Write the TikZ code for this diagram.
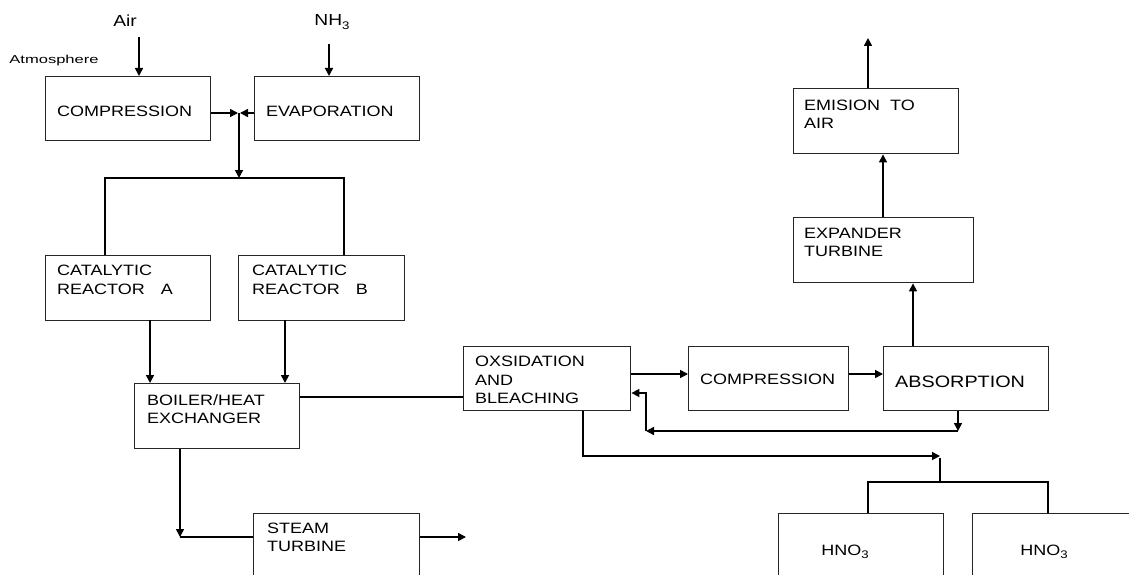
\documentclass[tikz,border=0pt]{standalone}
\usepackage{fontspec}
\setmainfont{Liberation Sans}[FakeStretch=1.2]
\usetikzlibrary{arrows.meta,calc}
\newcommand{\mysub}[1]{\raisebox{-3.5pt}{\fontsize{11}{11}\selectfont #1}}
\begin{document}
\begin{tikzpicture}[x=1pt,y=-1pt,
  box/.style={draw=black!85, line width=1.4pt, rectangle, inner sep=0pt, anchor=north west},
  txt/.style={inner sep=0pt, anchor=west, font=\fontsize{15}{18.5}\selectfont, align=left},
  ln/.style={line width=1.6pt, draw=black},
  arr/.style={ln, -{Triangle[length=8pt,width=8pt]}},
]
\useasboundingbox (0,0) rectangle (1129,575);
\clip (0,0) rectangle (1129,575);
% boxes
\node[box, minimum width=165, minimum height=64] (comp1) at (45,76) {};
\node[box, minimum width=165, minimum height=64] (evap) at (254,76) {};
\node[box, minimum width=165, minimum height=65] (ra) at (45,255) {};
\node[box, minimum width=166, minimum height=65] (rb) at (238,255) {};
\node[box, minimum width=165, minimum height=65] (boil) at (134,383) {};
\node[box, minimum width=166, minimum height=80] (steam) at (253,513) {};
\node[box, minimum width=167, minimum height=64] (oxs) at (463,346) {};
\node[box, minimum width=160, minimum height=64] (comp2) at (688,346) {};
\node[box, minimum width=165, minimum height=64] (abs) at (883,346) {};
\node[box, minimum width=180, minimum height=65] (exp) at (793,217) {};
\node[box, minimum width=165, minimum height=65] (emi) at (793,88) {};
\node[box, minimum width=165, minimum height=80] (h1) at (778,513) {};
\node[box, minimum width=180, minimum height=80] (h2) at (972,513) {};
% texts
\node[txt] (tcomp1) at (57,111) {COMPRESSION};
\node[txt] (tevap) at (266,111) {EVAPORATION};
\node[txt] (tra) at (57,280) {CATALYTIC\\REACTOR\hspace{16pt}A};
\node[txt] (trb) at (252,280) {CATALYTIC\\REACTOR\hspace{16pt}B};
\node[txt] (tboil) at (147,409) {BOILER/HEAT\\EXCHANGER};
\node[txt] (tsteam) at (267,537.5) {STEAM\\TURBINE};
\node[txt] (toxs) at (475,380) {OXSIDATION\\AND\\BLEACHING};
\node[txt] (tcomp2) at (700,379) {COMPRESSION};
\node[txt, font=\fontsize{16.5}{19}\selectfont] (tabs) at (895,382) {ABSORPTION};
\node[txt] (temi) at (804,114.5) {EMISION\hspace{10pt}TO\\AIR};
\node[txt] (texp) at (804,242.5) {EXPANDER\\TURBINE};
\node[txt, anchor=center] (th1) at (845,552) {HNO\mysub{3}};
\node[txt, anchor=center] (th2) at (1044,552) {HNO\mysub{3}};
\node[txt, anchor=center, font=\fontsize{16}{19}\selectfont] (air) at (125,21) {Air};
\node[txt, anchor=center, font=\fontsize{16}{19}\selectfont] (nh3) at (332,22) {NH\mysub{3}};
\node[txt, anchor=center, font=\fontsize{11.5}{13}\selectfont] (atm) at (54,61) {\scalebox{1.2}[1]{Atmosphere}};
% connectors
\coordinate (a0) at (139,37);
\draw[arr] (a0) -- (a0 |- comp1.north);
\coordinate (n0) at (329,44);
\draw[arr] (n0) -- (n0 |- evap.north);
\coordinate (j) at (239,113);
\coordinate (jl) at (238,113);
\coordinate (jr) at (240,113);
\draw[arr] (comp1.east |- jl) -- (jl);
\draw[arr] (evap.west |- jr) -- (jr);
\coordinate (bk) at (239,178);
\draw[arr] (j) -- (bk);
\coordinate (bl) at (105,178);
\coordinate (br) at (344,178);
\draw[ln] (ra.north -| bl) -- (bl) -- (br) -- (rb.north -| br);
\coordinate (xa) at (150,320);
\coordinate (xb) at (285,320);
\draw[arr] (xa) -- (xa |- boil.north);
\draw[arr] (xb) -- (xb |- boil.north);
\coordinate (yb) at (300,397);
\draw[ln] (boil.east |- yb) -- (oxs.west |- yb);
\coordinate (sc) at (180,537);
\draw[arr] (boil.south -| sc) -- (sc);
\draw[ln] (sc) -- (steam.west |- sc);
\coordinate (so) at (466,537);
\draw[arr] (steam.east |- so) -- (so);
\coordinate (yo) at (650,374);
\draw[arr] (oxs.east |- yo) -- (comp2.west |- yo);
\draw[arr] (comp2.east |- yo) -- (abs.west |- yo);
\coordinate (rc1) at (958,431);
\coordinate (rc2) at (646,431);
\coordinate (rc3) at (646,393);
\draw[arr] (abs.south -| rc1) -- (rc1);
\draw[arr] (rc1) -- (rc2);
\draw[arr] (rc2) -- (rc3) -- (oxs.east |- rc3);
\coordinate (ob) at (583,456);
\coordinate (oe) at (940,456);
\draw[arr] (oxs.south -| ob) -- (ob) -- (oe);
\coordinate (hb) at (940,482);
\draw[ln] (940,458) -- (hb);
\coordinate (hl) at (868,482);
\coordinate (hr) at (1048,482);
\draw[ln] (h1.north -| hl) -- (hl) -- (hr) -- (h2.north -| hr);
\coordinate (ea) at (913,300);
\draw[arr] (abs.north -| ea) -- (exp.south -| ea);
\coordinate (eb) at (883,200);
\draw[arr] (exp.north -| eb) -- (emi.south -| eb);
\coordinate (et) at (868,38);
\draw[arr] (emi.north -| et) -- (et);
\end{tikzpicture}
\end{document}
